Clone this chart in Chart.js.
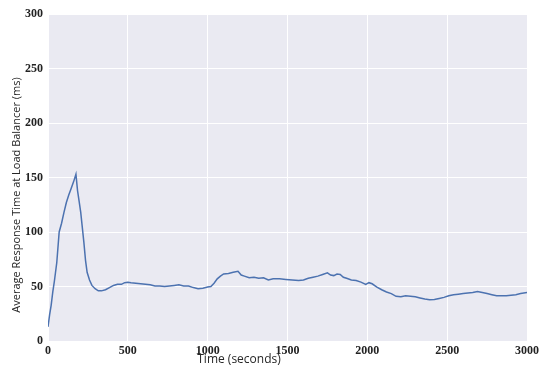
<!DOCTYPE html>
<html>
<head>
<meta charset="utf-8">
<script src="https://cdn.jsdelivr.net/npm/chart.js@4/dist/chart.umd.min.js"></script>
<style>
  html, body { margin: 0; padding: 0; background: #ffffff; }
  #wrap { width: 543px; height: 368px; }
</style>
</head>
<body>
<div id="wrap"><canvas id="lbChart" width="543" height="368"></canvas></div>
<script>
// time in seconds
var times = [0, 10, 20, 30, 40, 55, 70, 85, 100, 115, 130, 145, 160, 175, 185, 195, 205, 215, 225, 235,
    245, 260, 275, 295, 315, 335, 360, 385, 410, 435, 460, 480, 500, 520, 550, 580, 610, 640, 670, 700,
    730, 760, 790, 820, 850, 880, 910, 940, 970, 1000, 1020, 1040, 1060, 1080, 1100, 1130, 1160, 1190, 1210, 1230,
    1260, 1290, 1320, 1350, 1380, 1410, 1450, 1490, 1530, 1570, 1600, 1630, 1660, 1690, 1720, 1750, 1770, 1790, 1810, 1830,
    1850, 1870, 1900, 1930, 1960, 1990, 2010, 2030, 2060, 2090, 2120, 2150, 2180, 2210, 2240, 2270, 2300, 2330, 2360, 2390,
    2420, 2450, 2480, 2510, 2540, 2570, 2600, 2630, 2660, 2690, 2720, 2750, 2780, 2810, 2840, 2870, 2900, 2930, 2960, 3000];

// average response time (ms)
var responseMs = [13, 24, 33, 45, 55, 72, 100, 108, 118, 127, 134, 140, 146, 153, 138, 128, 118, 104, 90, 74,
    63, 56, 51, 48, 46, 46, 47, 49, 51, 52, 52, 53.5, 54, 53.5, 53, 52.5, 52, 51.5, 50.5, 50.5,
    50, 50.5, 51, 51.5, 50.5, 50.5, 49, 48, 48.5, 49.5, 50, 53, 57, 59.5, 61.5, 62, 63, 64, 60.5, 59.5,
    58, 58.5, 57.5, 58, 56, 57, 57, 56.5, 56, 55.5, 56, 57.5, 58.5, 59.5, 61, 62.5, 60.5, 60, 61.5, 61,
    58.5, 57.5, 56, 55.5, 54, 52, 53.5, 52.5, 49.5, 47, 45, 43.5, 41, 40.5, 41.5, 41, 40.5, 39.5, 38.5, 37.8,
    38, 39, 40, 41.5, 42.5, 43, 43.5, 44, 44.5, 45.5, 44.5, 43.5, 42.5, 41.5, 41.5, 41.5, 42, 42.5, 43.5, 44.5];

var xTitle = "Time (seconds)";
var yTitle = "Average Response Time at Load Balancer (ms)";

var points = times.map(function (t, i) {
    return { x: t, y: responseMs[i] };
});

// grey plot background + axis titles
var plotDeco = {
    id: "plotDeco",
    beforeDraw: function (chart) {
        var a = chart.chartArea;
        var ctx = chart.ctx;
        ctx.save();
        ctx.fillStyle = "#EAEAF2";
        ctx.fillRect(a.left, a.top, a.right - a.left, a.bottom - a.top);
        ctx.restore();
    },
    afterDraw: function (chart) {
        var ctx = chart.ctx;
        ctx.save();
        ctx.fillStyle = "#262626";
        ctx.textAlign = "center";
        ctx.textBaseline = "middle";
        ctx.font = "12px 'Open Sans', sans-serif";
        ctx.fillText(xTitle, 239, 360);
        ctx.font = "11px 'Open Sans', sans-serif";
        ctx.translate(17, 195);
        ctx.rotate(-Math.PI / 2);
        ctx.fillText(yTitle, 0, 0);
        ctx.restore();
    }
};

var tickFont = { family: "'Liberation Serif', serif", size: 12, weight: "bold" };

new Chart(document.getElementById("lbChart").getContext("2d"), {
    type: "line",
    data: {
        datasets: [{
            data: points,
            borderColor: "#4C72B0",
            borderWidth: 1.5,
            pointRadius: 0,
            fill: false,
            tension: 0
        }]
    },
    options: {
        responsive: false,
        animation: false,
        layout: { padding: { left: 0, top: 14, right: 16, bottom: 0 } },
        plugins: {
            legend: { display: false },
            tooltip: { enabled: false }
        },
        scales: {
            x: {
                type: "linear",
                min: 0,
                max: 3000,
                grid: { color: "#ffffff", lineWidth: 1, drawTicks: false },
                border: { display: false },
                ticks: {
                    stepSize: 500, color: "#222222", font: tickFont, padding: 3, maxRotation: 0,
                    callback: function (v) { return String(v); }
                },
                afterFit: function (s) { s.height = 27; }
            },
            y: {
                min: 0,
                max: 300,
                grid: { color: "#ffffff", lineWidth: 1, drawTicks: false },
                border: { display: false },
                ticks: {
                    stepSize: 50, color: "#222222", font: tickFont, padding: 5,
                    callback: function (v) { return String(v); }
                },
                afterFit: function (s) { s.width = 48; }
            }
        }
    },
    plugins: [plotDeco]
});
</script>
</body>
</html>
